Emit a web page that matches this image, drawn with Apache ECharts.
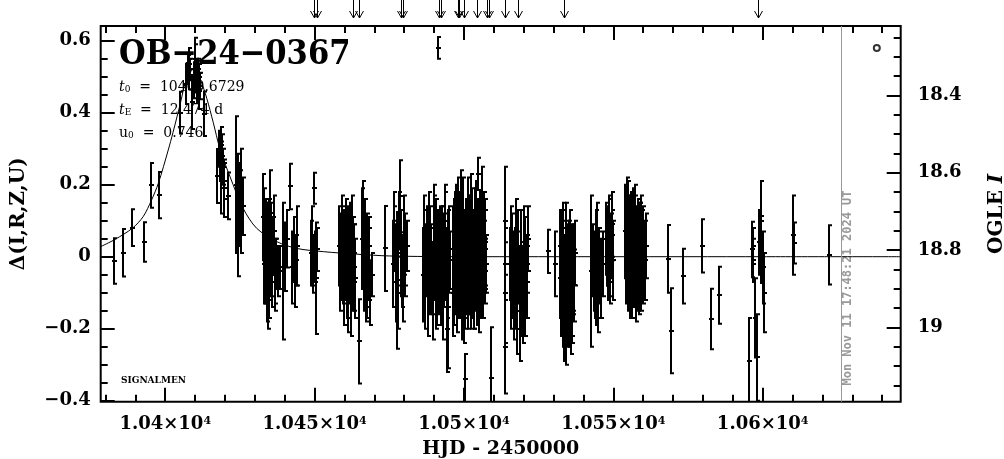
<!DOCTYPE html>
<html><head><meta charset="utf-8">
<script src="https://cdn.jsdelivr.net/npm/echarts@6/dist/echarts.min.js"></script>
<style>html,body{margin:0;padding:0;background:#fff}#c{width:1004px;height:459px}</style>
</head><body><div id="c"></div>
<script>
// ---------- data (HJD-2450000, delta flux, error) ----------
const peakObs = [
[10382.9,-0.012,0.063],[10385.8,0.011,0.066],[10388.9,0.081,0.051],[10392.9,0.041,0.055],
[10395.1,0.198,0.062],[10397.9,0.171,0.064],[10405.0,0.40,0.058],[10406.9,0.48,0.056],
[10407.4,0.51,0.028],[10407.8,0.55,0.03],[10408.1,0.50,0.035],[10408.9,0.43,0.075],
[10409.9,0.532,0.076],[10410.3,0.51,0.04],[10410.7,0.486,0.058],[10411.2,0.50,0.035],
[10411.7,0.474,0.037],[10413.1,0.397,0.062],[10417.2,0.224,0.075],[10417.9,0.30,0.05],
[10418.4,0.27,0.06],[10418.8,0.22,0.10],[10419.3,0.25,0.05],[10419.8,0.19,0.08],
[10421.1,0.169,0.065],[10423.7,0.20,0.19],[10424.2,0.116,0.17],[10424.6,0.18,0.08],
[10425.0,0.15,0.09],[10425.5,0.20,0.10],[10426.0,0.14,0.08],
[10407.6,0.53,0.03],[10408.4,0.52,0.03],[10409.5,0.49,0.05],[10410.0,0.55,0.04],[10410.9,0.52,0.03],
[10411.4,0.46,0.05],[10418.6,0.31,0.05],[10419.1,0.28,0.06],[10419.6,0.21,0.05],[10424.8,0.13,0.10],
[10425.3,0.10,0.09]
];
const seasonA = [
[10432.7,0.11,0.12],[10433.0,0.04,0.10],[10433.4,0.00,0.13],[10433.7,0.07,0.09],[10434.0,-0.06,0.12],
[10434.3,-0.09,0.11],[10434.6,0.02,0.14],[10435.0,0.12,0.12],[10435.3,0.05,0.10],[10435.7,-0.02,0.12],
[10436.1,0.03,0.08],[10436.6,-0.04,0.09],[10437.2,-0.02,0.07],[10437.7,-0.04,0.07],[10438.3,-0.03,0.06],
[10432.9,-0.02,0.11],[10433.2,0.09,0.10],[10433.9,0.02,0.13],[10434.4,0.06,0.09],[10434.8,-0.05,0.12],
[10435.5,0.00,0.11],[10436.4,0.07,0.10],[10436.9,-0.07,0.08],
[10439.5,-0.04,0.19],[10440.0,0.00,0.095],[10440.6,0.05,0.08],[10441.8,0.195,0.063],[10442.6,-0.03,0.10],
[10443.0,0.02,0.09],[10443.4,-0.06,0.08],[10443.8,-0.01,0.07],[10444.2,0.03,0.11],
[10448.8,0.01,0.09],[10449.2,0.03,0.11],[10449.8,0.19,0.043],[10449.6,-0.02,0.08],[10450.1,0.00,0.07],
[10450.5,-0.06,0.155],[10450.9,0.02,0.06]
];
const seasonB = [
[10458.3,0.03,0.11],[10458.7,0.00,0.12],[10459.1,0.06,0.08],[10459.5,-0.03,0.10],[10459.9,0.04,0.09],
[10460.3,-0.01,0.11],[10460.7,-0.07,0.10],[10461.1,0.02,0.12],[10461.5,-0.04,0.09],[10461.9,0.05,0.10],
[10462.3,-0.10,0.12],[10462.7,-0.02,0.13],[10463.1,0.01,0.08],[10463.5,-0.06,0.11],[10464.9,-0.235,0.117],
[10466.0,0.05,0.14],[10466.3,0.10,0.11],[10466.6,-0.03,0.12],[10467.0,0.02,0.09],[10467.3,-0.08,0.10],
[10467.7,-0.01,0.13],[10468.1,0.03,0.08],[10468.5,-0.10,0.09],[10469.2,-0.05,0.06],
[10458.5,-0.05,0.10],[10459.3,0.08,0.09],[10460.0,-0.08,0.11],[10460.5,0.04,0.12],[10461.3,-0.11,0.10],
[10462.0,0.00,0.11],[10462.5,0.07,0.10],[10463.3,-0.03,0.12],[10466.8,0.06,0.10],[10467.5,-0.05,0.12],
[10468.3,-0.02,0.10],
[10473.6,0.023,0.118],
[10476.3,-0.02,0.12],[10476.7,0.05,0.09],[10477.1,-0.07,0.11],[10477.5,-0.066,0.19],[10477.9,0.02,0.10],
[10478.3,0.10,0.08],[10478.6,0.168,0.10],[10479.0,0.01,0.12],[10479.4,-0.04,0.10],[10479.8,0.06,0.11],
[10480.3,-0.02,0.09],[10480.8,0.03,0.07],
[10476.5,0.08,0.10],[10477.3,-0.03,0.12],[10478.0,-0.10,0.10],[10478.9,0.04,0.09],[10479.6,-0.07,0.11],
[10480.1,0.02,0.10]
];
const seasonC = [
[10486.3,-0.05,0.13],[10486.7,0.02,0.11],[10487.1,-0.08,0.12],[10487.5,0.05,0.09],[10487.9,-0.02,0.10],
[10488.3,0.08,0.10],[10488.7,-0.04,0.12],[10489.1,0.01,0.08],[10489.5,-0.12,0.11],[10489.9,0.04,0.13],
[10490.3,-0.03,0.09],[10490.7,0.06,0.10],[10491.1,-0.07,0.12],[10491.4,0.58,0.03],[10491.6,0.00,0.09],
[10492.0,0.03,0.11],[10492.4,-0.09,0.10],[10492.8,0.02,0.12],[10493.2,-0.05,0.09],[10493.6,0.07,0.11],
[10494.0,-0.02,0.10],[10494.4,-0.20,0.12],[10494.6,-0.14,0.17],[10494.8,0.04,0.09],[10495.2,-0.01,0.08],
[10486.5,0.05,0.12],[10487.3,-0.01,0.10],[10488.0,-0.10,0.12],[10488.5,0.03,0.11],[10489.3,-0.06,0.10],
[10490.0,0.08,0.12],[10490.5,-0.09,0.11],[10491.3,0.03,0.10],[10491.8,-0.04,0.12],[10492.6,0.05,0.09],
[10493.0,-0.11,0.12],[10493.4,-0.01,0.13],[10493.8,0.10,0.10],[10494.2,-0.06,0.11],[10495.0,0.02,0.12],
[10496.3,0.02,0.12],[10496.6,-0.05,0.14],[10496.9,0.08,0.10],[10497.2,-0.02,0.13],[10497.5,0.03,0.11],
[10497.8,-0.09,0.12],[10498.1,0.12,0.10],[10498.4,0.00,0.13],[10498.7,-0.06,0.11],[10499.0,0.05,0.12],
[10499.3,-0.13,0.10],[10499.6,0.09,0.13],[10499.9,-0.03,0.14],[10500.2,0.02,0.11],[10500.3,-0.34,0.07],
[10500.5,-0.08,0.12],[10500.8,0.06,0.10],[10501.1,-0.01,0.13],[10501.4,0.10,0.12],[10501.7,-0.05,0.11],
[10502.0,0.03,0.14],[10502.3,-0.10,0.10],[10502.6,0.07,0.12],[10502.9,-0.02,0.11],[10503.2,0.04,0.09],
[10503.5,-0.07,0.13],[10503.8,0.01,0.10],[10504.1,0.09,0.12],[10504.4,-0.04,0.11],[10504.7,0.23,0.045],
[10505.0,-0.09,0.12],[10505.3,0.02,0.10],[10505.6,0.05,0.13],[10505.9,-0.03,0.09],[10506.2,0.11,0.14],
[10506.5,-0.06,0.11],[10506.8,0.00,0.10],[10507.1,0.04,0.12],[10507.4,-0.02,0.08],
[10496.4,-0.10,0.12],[10496.7,0.05,0.11],[10497.0,-0.04,0.12],[10497.3,0.10,0.10],[10497.6,-0.01,0.12],
[10497.9,0.04,0.13],[10498.2,-0.07,0.10],[10498.5,0.06,0.12],[10498.8,-0.02,0.13],[10499.1,0.13,0.11],
[10499.4,-0.04,0.12],[10499.7,0.01,0.10],[10500.0,-0.11,0.13],[10500.6,0.03,0.12],[10500.9,-0.05,0.11],
[10501.2,0.07,0.10],[10501.5,-0.08,0.12],[10501.8,0.02,0.13],[10502.1,-0.03,0.10],[10502.4,0.11,0.12],
[10502.7,-0.06,0.11],[10503.0,0.00,0.12],[10503.3,-0.09,0.11],[10503.6,0.06,0.13],[10503.9,-0.03,0.12],
[10504.2,0.03,0.10],[10504.5,-0.07,0.12],[10504.8,0.05,0.11],[10505.1,-0.01,0.13],[10505.4,0.08,0.10],
[10505.7,-0.05,0.12],[10506.0,0.01,0.11],[10506.3,-0.02,0.10],[10506.6,0.06,0.12],[10506.9,-0.04,0.09],
[10507.2,0.02,0.11],
[10508.9,-0.336,0.14],
[10513.6,0.10,0.15],[10513.7,-0.10,0.14],[10513.8,-0.25,0.13],[10513.7,-0.02,0.10]
];
const seasonD = [
[10515.4,-0.02,0.10],[10515.8,-0.08,0.12],[10516.2,0.03,0.09],[10516.6,-0.12,0.11],[10517.0,-0.05,0.13],
[10517.4,0.06,0.10],[10517.8,-0.15,0.12],[10518.2,-0.03,0.10],[10518.6,-0.20,0.09],[10519.0,0.02,0.11],
[10519.4,-0.10,0.12],[10519.8,-0.06,0.09],[10520.2,0.04,0.10],[10520.6,-0.09,0.13],[10521.0,-0.02,0.08],
[10521.5,0.05,0.09],
[10515.6,0.03,0.11],[10516.4,-0.05,0.12],[10517.2,-0.10,0.10],[10518.0,0.01,0.12],[10518.8,-0.08,0.11],
[10519.6,-0.14,0.10],[10520.4,-0.01,0.12],[10521.2,-0.07,0.10],
[10528.2,0.015,0.06],[10530.5,-0.02,0.09],
[10532.2,0.03,0.10],[10532.5,-0.10,0.12],[10532.8,-0.04,0.14],[10533.1,0.06,0.09],[10533.4,-0.15,0.11],
[10533.7,-0.07,0.13],[10534.0,0.00,0.10],[10534.3,-0.20,0.10],[10534.6,-0.09,0.12],[10534.9,-0.02,0.11],
[10535.2,-0.12,0.13],[10535.5,0.04,0.09],[10535.8,-0.05,0.10],[10536.1,-0.13,0.11],[10536.4,-0.03,0.12],
[10536.8,-0.08,0.10],[10537.2,0.01,0.09],
[10532.3,-0.06,0.11],[10532.7,0.01,0.12],[10533.0,-0.12,0.13],[10533.3,-0.02,0.10],[10533.6,-0.17,0.12],
[10533.9,-0.05,0.11],[10534.2,0.03,0.12],[10534.5,-0.14,0.11],[10534.8,-0.06,0.13],[10535.1,0.00,0.10],
[10535.4,-0.09,0.12],[10535.7,-0.16,0.11],[10536.0,-0.01,0.10],[10536.3,-0.10,0.12],[10536.6,-0.05,0.11],
[10542.4,-0.04,0.21],[10543.3,-0.01,0.10],[10543.7,-0.08,0.09],[10544.1,0.02,0.11],[10544.5,-0.05,0.12],
[10544.9,-0.11,0.10],[10545.3,0.00,0.08],[10546.0,-0.06,0.11],[10546.5,-0.02,0.09],[10547.5,0.05,0.10],
[10548.0,0.01,0.09],[10548.4,0.08,0.08],[10548.8,-0.03,0.10],[10549.2,0.03,0.09],[10549.6,0.06,0.07],
[10550.0,-0.01,0.11],
[10543.5,-0.04,0.11],[10544.3,-0.09,0.10],[10544.7,0.03,0.12],[10545.1,-0.03,0.10],[10547.8,0.03,0.11],
[10548.2,-0.02,0.10],[10548.6,0.05,0.12],[10549.0,0.00,0.11],[10549.4,0.09,0.09]
];
const seasonE = [
[10554.0,0.07,0.13],[10554.4,-0.01,0.12],[10554.8,0.10,0.11],[10555.2,0.03,0.14],[10555.6,-0.05,0.12],
[10556.0,0.08,0.10],[10556.4,0.01,0.13],[10556.8,-0.03,0.11],[10557.2,0.05,0.12],[10557.6,-0.08,0.10],
[10558.0,0.02,0.12],[10558.4,-0.02,0.13],[10558.8,0.06,0.09],[10559.2,-0.04,0.11],[10559.6,0.01,0.12],
[10560.0,0.04,0.10],[10560.5,-0.01,0.11],[10561.0,0.03,0.09],
[10554.2,0.03,0.12],[10554.6,0.12,0.10],[10555.0,-0.02,0.13],[10555.4,0.06,0.11],[10555.8,0.00,0.12],
[10556.2,-0.06,0.11],[10556.6,0.07,0.12],[10557.0,-0.01,0.10],[10557.4,0.09,0.11],[10557.8,0.00,0.12],
[10558.2,0.05,0.11],[10558.6,-0.06,0.10],[10559.0,0.03,0.12],[10559.4,0.07,0.10],[10559.8,-0.02,0.11],
[10568.4,-0.006,0.094],[10569.3,-0.206,0.118],[10573.4,-0.054,0.076],[10579.6,0.03,0.074],
[10582.6,-0.173,0.084],[10585.5,-0.107,0.079],
[10595.4,-0.29,0.12],[10596.4,0.02,0.077],[10596.6,-0.01,0.06],[10596.9,0.03,0.05],[10597.3,-0.17,0.11],
[10598.0,-0.28,0.12],[10598.6,0.04,0.09],[10599.3,0.10,0.11],[10599.6,0.02,0.093],[10600.1,-0.03,0.10],
[10600.5,-0.10,0.11],
[10610.2,0.06,0.11],[10610.6,0.038,0.057],[10622.3,0.005,0.082]
];
const modelHJD = [10378.4,10383.2,10389.0,10392.6,10395.4,10397.7,10401.0,10402.6,10404.9,10407.0,10409.4,10411.8,10413.9,10416.1,10418.3,10421.7,10426.1,10430.6,10437.3,10444.0,10452.9,10464.1,10475.2,10500,10550,10600,10646.2];
const modelDelta = [0.028,0.048,0.079,0.111,0.157,0.204,0.296,0.345,0.42,0.49,0.52,0.49,0.44,0.372,0.30,0.222,0.134,0.079,0.042,0.023,0.014,0.007,0.002,0.0,0.0,0.0,0.0];
const arrowHJD = [10449.9,10450.7,10462.9,10464.9,10478.8,10479.5,10491.7,10492.4,10497.9,10498.4,10500.1,10504.5,10507.6,10508.5,10513.7,10518.2,10533.5,10598.5];
const extraPoint = [[10638.2, 0.58]];
const nowHJD = 10626.3;
const xMajor = [10400,10450,10500,10550,10600];
const xMinor = [10380,10390,10410,10420,10430,10440,10460,10470,10480,10490,10510,10520,10530,10540,10560,10570,10580,10590,10610,10620,10630,10640];
const yMajor = [-0.4,-0.2,0,0.2,0.4,0.6];
const yMinor = [-0.35,-0.3,-0.25,-0.15,-0.1,-0.05,0.05,0.1,0.15,0.25,0.3,0.35,0.45,0.5,0.55];
const magMajor = [18.4,18.6,18.8,19];
const magMinor = [18.25,18.3,18.35,18.45,18.5,18.55,18.65,18.7,18.75,18.85,18.9,18.95,19.05,19.1,19.15];

// ---------- chart ----------
const obs = [].concat(peakObs, seasonA, seasonB, seasonC, seasonD, seasonE);
const X0 = 10378.4, X1 = 10646.2, Y0 = -0.4028, Y1 = 0.6408, M0 = 18.2208, M1 = 19.1924;
const FONT = 'DejaVu Serif';
const LBL = {fontFamily: FONT, fontWeight: 'bold', fontSize: 18, color: '#000'};

function xAx(pos, vals, len, labels) {
  return {type: 'value', position: pos, min: X0, max: X1, gridIndex: 0,
    axisLine: {show: false, onZero: false}, splitLine: {show: false},
    axisTick: {show: true, inside: true, length: len, customValues: vals, lineStyle: {color: '#000', width: 2}},
    axisLabel: labels ? {show: true, customValues: vals, margin: 14,
      formatter: v => '{m|' + (v / 10000) + '×10}{s|4}',
      rich: {m: Object.assign({}, LBL), s: {fontFamily: FONT, fontWeight: 'bold', fontSize: 11, color: '#000', verticalAlign: 'top', lineHeight: 12}}
    } : {show: false},
    name: labels ? 'HJD - 2450000' : '', nameLocation: 'middle', nameGap: 38,
    nameTextStyle: {fontFamily: FONT, fontWeight: 'bold', fontSize: 19, color: '#000'}
  };
}
function yAx(pos, vals, len, labels, mag) {
  return {type: 'value', position: pos, min: mag ? M0 : Y0, max: mag ? M1 : Y1, inverse: !!mag, gridIndex: 0,
    axisLine: {show: false, onZero: false}, splitLine: {show: false},
    axisTick: {show: true, inside: true, length: len, customValues: vals, lineStyle: {color: '#000', width: 2}},
    axisLabel: labels ? Object.assign({show: true, customValues: vals, margin: mag ? 17 : 10,
      formatter: mag ? (v => String(v)) : (v => v === 0 ? '0' : (v < 0 ? '\u2212' : '') + Math.abs(v).toFixed(1))}, LBL) : {show: false}
  };
}

const yAxes = [yAx('left', yMajor, 14, true, false), yAx('left', yMinor, 7, false, false),
               yAx('right', magMajor, 14, true, true), yAx('right', magMinor, 7, false, true)];
yAxes[0].name = 'Δ(I,R,Z,U)'; yAxes[0].nameLocation = 'middle'; yAxes[0].nameGap = 72; yAxes[0].nameRotate = 90;
yAxes[0].nameTextStyle = {fontFamily: FONT, fontWeight: 'bold', fontSize: 20, color: '#000'};
yAxes[2].name = 'OGLE {i|I}'; yAxes[2].nameLocation = 'middle'; yAxes[2].nameGap = 86; yAxes[2].nameRotate = 90;
yAxes[2].nameTextStyle = {fontFamily: FONT, fontWeight: 'bold', fontSize: 20, color: '#000',
  rich: {i: {fontFamily: FONT, fontWeight: 'bold', fontStyle: 'italic', fontSize: 20, color: '#000'}}};

function renderBar(params, api) {
  const x = api.value(0), d = api.value(1), e = api.value(2);
  const p = api.coord([x, d]), hi = api.coord([x, d + e]), lo = api.coord([x, d - e]);
  const px = Math.round(p[0]);
  const st = {stroke: '#000', lineWidth: 2};
  return {type: 'group', children: [
    {type: 'line', shape: {x1: px, y1: hi[1], x2: px, y2: lo[1]}, style: st},
    {type: 'line', shape: {x1: px - 1, y1: hi[1], x2: px + 3, y2: hi[1]}, style: st},
    {type: 'line', shape: {x1: px - 1, y1: lo[1], x2: px + 3, y2: lo[1]}, style: st},
    {type: 'rect', shape: {x: px - 2, y: Math.round(p[1]) - 1, width: 5, height: 2}, style: {fill: '#000'}}
  ]};
}
function renderArrow(params, api) {
  const x = Math.round(api.coord([api.value(0), 0])[0]) + 0.5;
  const top = params.coordSys.y;
  const st = {stroke: '#000', lineWidth: 1, fill: null};
  return {type: 'group', children: [
    {type: 'line', shape: {x1: x, y1: 0, x2: x, y2: top - 8}, style: st},
    {type: 'polyline', shape: {points: [[x - 4, top - 15], [x, top - 8], [x + 4, top - 15]]}, style: st}
  ]};
}

const paramRich = (italic) => ({
  t: {fontFamily: FONT, fontStyle: italic ? 'italic' : 'normal', fontSize: 14, fill: '#000'},
  s: {fontFamily: FONT, fontSize: 9, fill: '#000', verticalAlign: 'bottom', padding: [6, 0, 0, 0]},
  n: {fontFamily: FONT, fontSize: 14, fill: '#000'}
});

const chart = echarts.init(document.getElementById('c'), null, {renderer: 'canvas'});
chart.setOption({
  animation: false,
  backgroundColor: '#fff',
  grid: {left: 100.7, right: 103.3, top: 26, bottom: 57.3, show: true, borderColor: '#000', borderWidth: 2,
         backgroundColor: 'transparent', containLabel: false, outerBoundsMode: 'none'},
  xAxis: [xAx('bottom', xMajor, 14, true), xAx('bottom', xMinor, 7, false), xAx('top', xMajor, 14, false), xAx('top', xMinor, 7, false)],
  yAxis: yAxes,
  series: [
    {type: 'line', xAxisIndex: 0, yAxisIndex: 0, data: modelHJD.map((h, i) => [h, modelDelta[i]]),
     showSymbol: false, smooth: 0.3, lineStyle: {color: '#000', width: 1}, silent: true, z: 2,
     markLine: {silent: true, symbol: 'none', label: {show: false}, lineStyle: {color: '#999', width: 1, type: 'solid'},
                data: [{xAxis: nowHJD}]}},
    {type: 'custom', xAxisIndex: 0, yAxisIndex: 0, data: obs, renderItem: renderBar, clip: true, encode: {x: 0, y: 1}, z: 3, silent: true},
    {type: 'custom', xAxisIndex: 0, yAxisIndex: 0, data: arrowHJD.map(h => [h, 0]), renderItem: renderArrow, clip: false, encode: {x: 0, y: 1}, silent: true},
    {type: 'scatter', xAxisIndex: 0, yAxisIndex: 0, data: extraPoint, symbol: 'circle', symbolSize: 6,
     itemStyle: {color: '#fff', borderColor: '#000', borderWidth: 2}, silent: true}
  ],
  graphic: [
    {type: 'text', x: 119, y: 55, silent: true, style: {text: 'OB\u221224\u22120367', fill: '#000',
      font: 'bold 34px "DejaVu Serif Condensed", "DejaVu Serif"', verticalAlign: 'middle'}},
    {type: 'text', x: 119, y: 87, silent: true, style: {text: '{t|t}{s|0}{n|  =  10409.6729}', verticalAlign: 'middle', rich: paramRich(true)}},
    {type: 'text', x: 119, y: 110, silent: true, style: {text: '{t|t}{s|E}{n|  =  12.474 d}', verticalAlign: 'middle', rich: paramRich(true)}},
    {type: 'text', x: 119, y: 133, silent: true, style: {text: '{t|u}{s|0}{n|  =  0.746}', verticalAlign: 'middle', rich: paramRich(false)}},
    {type: 'text', x: 121, y: 381, silent: true, style: {text: 'SIGNALMEN', fill: '#000', font: 'bold 9px "DejaVu Serif"', verticalAlign: 'middle'}},
    {type: 'text', x: 848, y: 288, rotation: Math.PI / 2, silent: true, style: {text: 'Mon Nov 11 17:48:21 2024 UT', fill: '#999',
      font: 'bold 12px "DejaVu Sans Mono"', align: 'center', verticalAlign: 'middle'}}
  ]
});
</script></body></html>
